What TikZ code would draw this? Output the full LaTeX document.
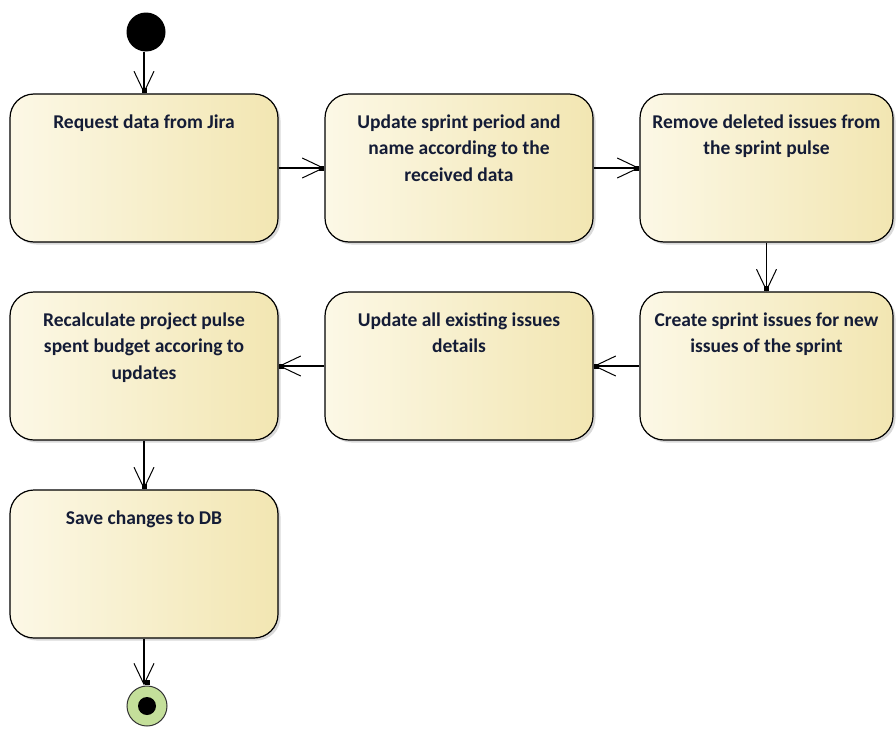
\documentclass[tikz,border=0pt]{standalone}
\usepackage{fontspec}
\setmainfont{Carlito}
\usetikzlibrary{arrows.meta,shadows}
\definecolor{boxL}{HTML}{FCF8E6}
\definecolor{boxR}{HTML}{F2E6B2}
\definecolor{txt}{HTML}{141C36}
\definecolor{endg}{HTML}{C4DF9A}
\begin{document}
\begin{tikzpicture}[x=1pt,y=-1pt,
  box/.style={draw=black, line width=1.2pt, rounded corners=24pt,
    minimum width=268pt, minimum height=148pt, inner sep=0pt,
    left color=boxL, right color=boxR,
    drop shadow={shadow xshift=2.5pt,shadow yshift=-2.5pt,opacity=0.3,fill=gray}},
  lbl/.style={anchor=north, yshift=-21pt, inner sep=0pt, align=center,
    font=\fontsize{19.5}{26.5}\selectfont\bfseries, text=txt},
  flow/.style={line width=1.1pt,
    -{Straight Barb[length=21pt,width=20pt,line width=1pt]}},
  tipsq/.style={fill=black, minimum size=5pt, inner sep=0pt},
]
\useasboundingbox (0,0) rectangle (896,728);

\node[box, label={[lbl]north:{Request data from Jira}}] (b1) at (144,168) {};
\node[box, label={[lbl]north:{Update sprint period and\\name according to the\\received data}}] (b2) at (459,168) {};
\node[box, minimum width=253pt, label={[lbl]north:{Remove deleted issues from\\the sprint pulse}}] (b3) at (766.5,168) {};
\node[box, minimum width=253pt, label={[lbl]north:{Create sprint issues for new\\issues of the sprint}}] (b6) at (766.5,366) {};
\node[box, label={[lbl]north:{Update all existing issues\\details}}] (b5) at (459,366) {};
\node[box, label={[lbl]north:{Recalculate project pulse\\spent budget accoring to\\updates}}] (b7) at (144,366) {};
\node[box, label={[lbl]north:{Save changes to DB}}] (b8) at (144,564) {};

\node[circle, fill=black, minimum size=39pt, inner sep=0pt] (start) at (146,32) {};
\node[circle, draw=black!80, line width=1pt, fill=endg, minimum size=40pt, inner sep=0pt] (end) at (147,706) {};
\node[circle, fill=black, minimum size=18pt, inner sep=0pt] (endin) at (end.center) {};

\draw[flow] (b1.north |- start.south) -- (b1.north);
\draw[flow] (b1.east) -- (b2.west);
\draw[flow] (b2.east) -- (b3.west);
\draw[flow] (b3.south) -- (b6.north);
\draw[flow] (b6.west) -- (b5.east);
\draw[flow] (b5.west) -- (b7.east);
\draw[flow] (b7.south) -- (b8.north);
\draw[flow] (b8.south) -- (b8.south |- end.north);

\node[tipsq, anchor=south] (q1) at (b1.north) {};
\node[tipsq, anchor=east] (q2) at (b2.west) {};
\node[tipsq, anchor=east] (q3) at (b3.west) {};
\node[tipsq, anchor=south] (q6) at (b6.north) {};
\node[tipsq, anchor=west] (q5) at (b5.east) {};
\node[tipsq, anchor=west] (q7) at (b7.east) {};
\node[tipsq, anchor=south] (q8) at (b8.north) {};
\node[tipsq, anchor=south] (qe) at (end.north) {};
\end{tikzpicture}
\end{document}
